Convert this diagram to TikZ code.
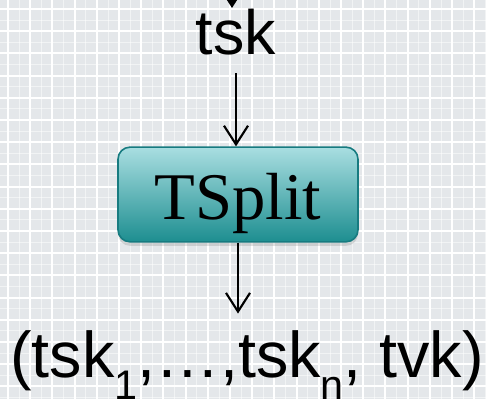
\documentclass[tikz,border=0pt]{standalone}
\usepackage{fontspec}
\setmainfont{Liberation Sans}
\newfontfamily\boxfont{Liberation Serif}
\usetikzlibrary{arrows.meta,positioning,shadows}
\definecolor{paper}{HTML}{E4E7EA}
\definecolor{tealtop}{HTML}{A9DEE1}
\definecolor{tealbot}{HTML}{1D8E90}
\definecolor{tealedge}{HTML}{177B80}
\newcommand\lowsub[1]{\raisebox{-16pt}{\fontsize{31}{31}\selectfont #1}}

\begin{document}
\begin{tikzpicture}[
  x=0.75pt,y=0.75pt,
  word/.style={font=\fontsize{47}{47}\selectfont,inner xsep=0pt,inner ysep=13pt,anchor=base},
  splitbox/.style={draw=tealedge,line width=1.2pt,rounded corners=9pt,top color=tealtop,bottom color=tealbot,minimum width=180pt,minimum height=71pt,text height=40pt,text depth=3pt,font=\boxfont\fontsize{50}{50}\selectfont,drop shadow={opacity=0.25,shadow xshift=0pt,shadow yshift=-3pt}},
  arr/.style={-{Straight Barb[length=14pt,width=18pt]},line width=1.6pt},
  inarr/.style={-{Triangle[length=12pt,width=15pt]},line width=1.6pt}
]
  \useasboundingbox (0,0) rectangle (486,399);
  \clip (0,0) rectangle (486,399);
  % graph paper
  \fill[paper] (0,0) rectangle (486,399);
  \foreach \k in {0,...,22} {
    \draw[white,opacity=0.5,line width=0.6pt] ({19.1+22.2*\k},0) -- ++(0,399);
    \draw[white,opacity=0.5,line width=0.6pt] (0,{379+22.2-22.2*\k}) -- ++(486,0);
    \draw[white,line width=1.5pt] ({8+22.2*\k},0) -- ++(0,399);
    \draw[white,line width=1.5pt] (0,{390-22.2*\k}) -- ++(486,0);
  }
  \node[word] (tsk) at (236,344) {tsk};
  \node[splitbox] (split) at (238,204.5) {TSplit};
  \node[word,font=\fontsize{48.5}{48.5}\selectfont] (tuple) at (247,21) {(tsk\lowsub{1},…,tsk\lowsub{n}, tvk)};
  \coordinate (src) at (232,430);
  \draw[inarr] (src) -- ([xshift=-3pt,yshift=-12pt]tsk.north);
  \draw[arr] (tsk.south) -- (tsk.south |- split.north);
  \draw[arr] (split.south) -- (split.south |- tuple.north);
\end{tikzpicture}
\end{document}
